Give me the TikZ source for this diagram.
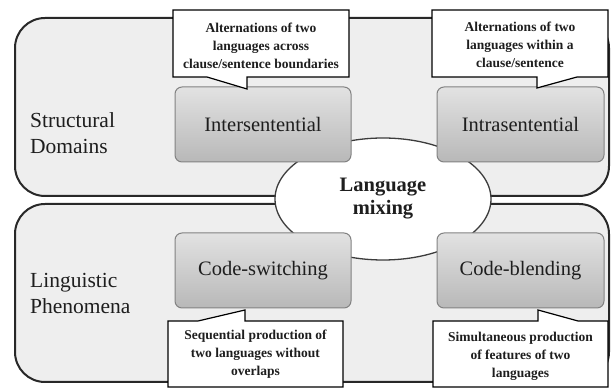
\documentclass[tikz,border=0pt]{standalone}
\usepackage{fontspec}
\setmainfont{Liberation Serif}
\usetikzlibrary{shapes.geometric}
\definecolor{bigfill}{RGB}{238,238,238}
\definecolor{bigline}{RGB}{40,40,40}
\definecolor{boxtop}{RGB}{226,226,226}
\definecolor{boxbot}{RGB}{184,184,184}
\definecolor{boxline}{RGB}{130,130,130}
\definecolor{ellline}{RGB}{60,60,60}
\definecolor{txt}{RGB}{30,30,30}
\begin{document}
\begin{tikzpicture}[x=1pt,y=1pt,
  region/.style={draw=bigline, line width=2pt, fill=bigfill, rounded corners=30pt},
  catbox/.style={draw=boxline, line width=1pt, rounded corners=7pt, top color=boxtop, bottom color=boxbot, minimum height=75pt, font=\fontsize{20.5}{24}\selectfont, text=txt, inner sep=0pt},
  calltext/.style={align=center, font=\bfseries\fontsize{13.5}{18}\selectfont, text=txt, inner sep=0pt},
  callshape/.style={draw=black, line width=1.2pt, fill=white, line join=miter},
  side/.style={align=left, anchor=west, font=\fontsize{21.5}{26}\selectfont, text=txt, inner sep=0pt},
]
\useasboundingbox (0,0) rectangle (611,388);
\fill[white] (0,0) rectangle (611,388);
% regions
\draw[region] (15,192) rectangle (609,370);
\draw[region] (15,6) rectangle (609,184);
% central ellipse
\node[ellipse, draw=ellline, line width=1.3pt, fill=white, minimum width=216pt, minimum height=122pt, inner sep=0pt, align=center, font=\bfseries\fontsize{20.5}{23}\selectfont, text=txt] (mix) at (383,189) {Language\\mixing};
% side labels
\node[side] (struct) at (30,255) {Structural\\Domains};
\node[side] (ling) at (30,95) {Linguistic\\Phenomena};
% category boxes
\node[catbox, minimum width=176pt] (inter) at (263,263.5) {Intersentential};
\node[catbox, minimum width=167pt] (intra) at (520.5,263.5) {Intrasentential};
\node[catbox, minimum width=176pt] (cs) at (263,117.5) {Code-switching};
\node[catbox, minimum width=167pt] (cb) at (520.5,117.5) {Code-blending};
% callouts
\draw[callshape] (173,378) -- (349,378) -- (349,311) -- (247,311) -- (247,299) -- (207,311) -- (173,311) -- cycle;
\draw[callshape] (432,378) -- (608,378) -- (608,311) -- (577,311) -- (537,300) -- (537,311) -- (432,311) -- cycle;
\draw[callshape] (168,67) -- (198,67) -- (245,78) -- (245,67) -- (343,67) -- (343,1) -- (168,1) -- cycle;
\draw[callshape] (433,67) -- (538,67) -- (538,78) -- (578,67) -- (608,67) -- (608,1) -- (433,1) -- cycle;
\node[calltext] (c1) at (261,342) {Alternations of two\\languages across\\clause/sentence boundaries};
\node[calltext] (c2) at (520,343) {Alternations of two\\languages within a\\clause/sentence};
\node[calltext] (c3) at (255.5,34) {Sequential production of\\two languages without\\overlaps};
\node[calltext] (c4) at (520.5,32) {Simultaneous production\\of features of two\\languages};
\end{tikzpicture}
\end{document}
